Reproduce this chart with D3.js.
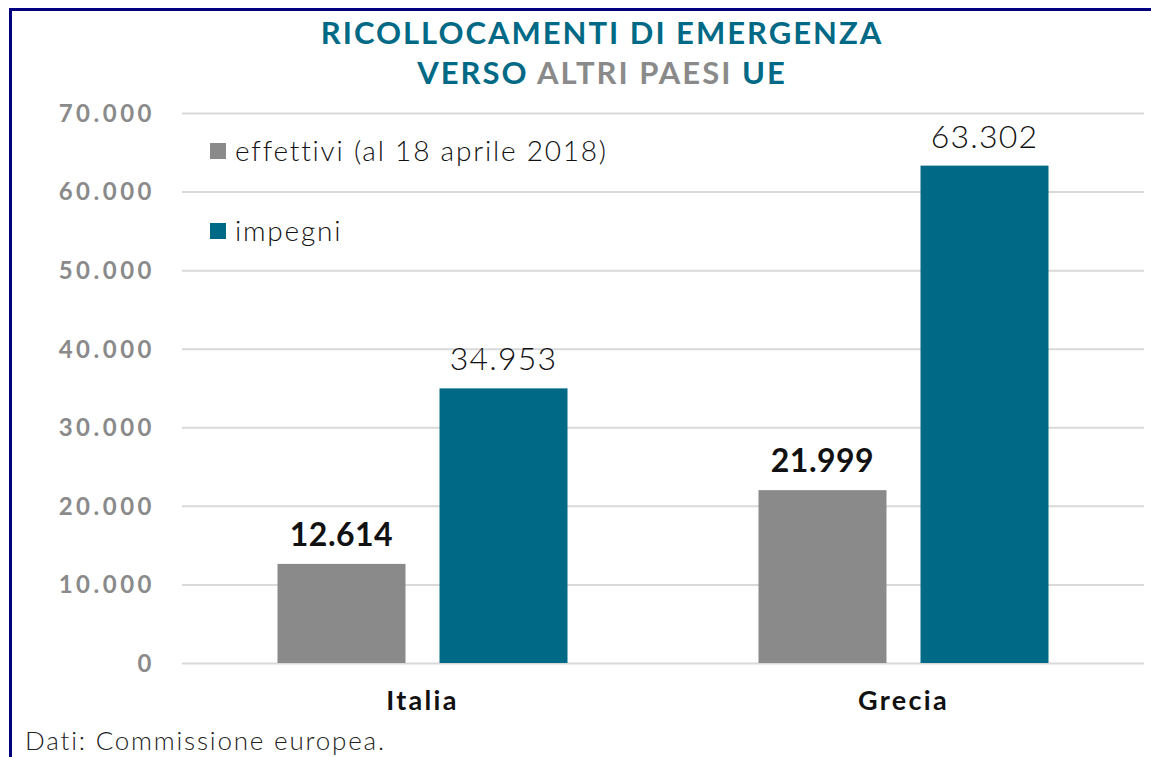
<!DOCTYPE html>
<html>
<head>
<meta charset="utf-8">
<script src="https://cdn.jsdelivr.net/npm/d3@7"></script>
<style>
  body { margin: 0; background: #fff; }
  svg { display: block; font-family: Lato, "Open Sans", sans-serif; }
</style>
</head>
<body>
<div id="chart"></div>
<script>
// Data
const categories = ["Italia", "Grecia"];
const seriesNames = ["effettivi (al 18 aprile 2018)", "impegni"];
const effettivi = [12614, 21999];
const impegni = [34953, 63302];
const yTicks = [0, 10000, 20000, 30000, 40000, 50000, 60000, 70000];

const colors = ["#8a8a8a", "#006985"];
const width = 1151, height = 757;

const it = d3.formatLocale({ decimal: ",", thousands: ".", grouping: [3], currency: ["", "€"] });
const fmt = it.format(",d");

const rows = categories.map((c, i) => ({ cat: c, values: [effettivi[i], impegni[i]] }));

const svg = d3.select("#chart")
    .append("svg")
    .attr("width", width)
    .attr("height", height);

// Frame (top and left border)
svg.append("path")
    .attr("d", `M10.5,${height} V9.5 H${width}`)
    .attr("fill", "none")
    .attr("stroke", "#000080")
    .attr("stroke-width", 3);

// Scales
const x0 = d3.scaleBand()
    .domain(categories)
    .range([182, 1144]);

const groupW = 290;
const x1 = d3.scaleBand()
    .domain(d3.range(seriesNames.length))
    .range([(x0.bandwidth() - groupW) / 2, (x0.bandwidth() + groupW) / 2])
    .paddingInner(0.21);

const y = d3.scaleLinear()
    .domain([0, 70000])
    .range([663, 113]);

// Y axis with gridlines
const yAxis = svg.append("g")
    .attr("transform", "translate(182,0)")
    .call(d3.axisLeft(y)
        .tickValues(yTicks)
        .tickSize(-(1144 - 182))
        .tickPadding(30)
        .tickFormat(fmt));
yAxis.select(".domain").remove();
yAxis.selectAll(".tick line")
    .attr("stroke", "#d9d9d9")
    .attr("stroke-width", 2);
yAxis.selectAll(".tick text")
    .attr("fill", "#8a8a8a")
    .attr("font-size", 24)
    .attr("font-weight", "bold")
    .attr("font-family", "Lato, sans-serif")
    .attr("letter-spacing", 3.5)
    .attr("dx", 3)
    .attr("dy", "0.35em");

// Bars
const groups = svg.selectAll(".grp")
    .data(rows)
    .enter()
    .append("g")
    .attr("class", "grp")
    .attr("transform", d => `translate(${x0(d.cat)},0)`);

groups.selectAll("rect")
    .data(d => d.values)
    .enter()
    .append("rect")
    .attr("x", (d, i) => x1(i))
    .attr("width", x1.bandwidth())
    .attr("y", d => y(d))
    .attr("height", d => y(0) - y(d))
    .attr("fill", (d, i) => colors[i]);

// Value labels
groups.selectAll(".val")
    .data(d => d.values)
    .enter()
    .append("text")
    .attr("class", "val")
    .attr("x", (d, i) => x1(i) + x1.bandwidth() / 2)
    .attr("y", d => y(d) - 18)
    .attr("text-anchor", "middle")
    .attr("font-size", 32)
    .attr("letter-spacing", (d, i) => i === 0 ? 0.5 : 1.2)
    .attr("font-weight", (d, i) => i === 0 ? "bold" : 300)
    .attr("fill", "#111")
    .text(d => fmt(d));

// X axis labels
svg.append("g")
    .selectAll("text")
    .data(categories)
    .enter()
    .append("text")
    .attr("x", d => x0(d) + x0.bandwidth() / 2)
    .attr("y", 710)
    .attr("text-anchor", "middle")
    .attr("font-size", 27)
    .attr("font-weight", "bold")
    .attr("letter-spacing", 2.3)
    .attr("fill", "#111")
    .text(d => d);

// Legend
const legend = svg.append("g")
    .selectAll("g")
    .data(seriesNames)
    .enter()
    .append("g")
    .attr("transform", (d, i) => `translate(210,${143 + i * 80})`);

legend.append("rect")
    .attr("width", 16)
    .attr("height", 16)
    .attr("fill", (d, i) => colors[i]);

legend.append("text")
    .attr("x", 25)
    .attr("y", 18)
    .attr("font-size", 28)
    .attr("font-weight", 300)
    .attr("letter-spacing", 1.8)
    .attr("fill", "#111")
    .text(d => d);

// Title
const title = svg.append("text")
    .attr("x", 602)
    .attr("text-anchor", "middle")
    .attr("font-size", 31)
    .attr("font-weight", "bold")
    .attr("letter-spacing", 2);

title.append("tspan")
    .attr("x", 602)
    .attr("y", 44)
    .attr("fill", "#006985")
    .text("RICOLLOCAMENTI DI EMERGENZA");

const line2 = title.append("tspan")
    .attr("x", 602)
    .attr("y", 84);
line2.append("tspan").attr("fill", "#006985").text("VERSO ");
line2.append("tspan").attr("fill", "#8a8a8a").text("ALTRI PAESI ");
line2.append("tspan").attr("fill", "#006985").text("UE");

// Source
svg.append("text")
    .attr("x", 25)
    .attr("y", 750)
    .attr("font-size", 26)
    .attr("font-weight", 300)
    .attr("letter-spacing", 1.8)
    .attr("fill", "#222")
    .text("Dati: Commissione europea.");
</script>
</body>
</html>
